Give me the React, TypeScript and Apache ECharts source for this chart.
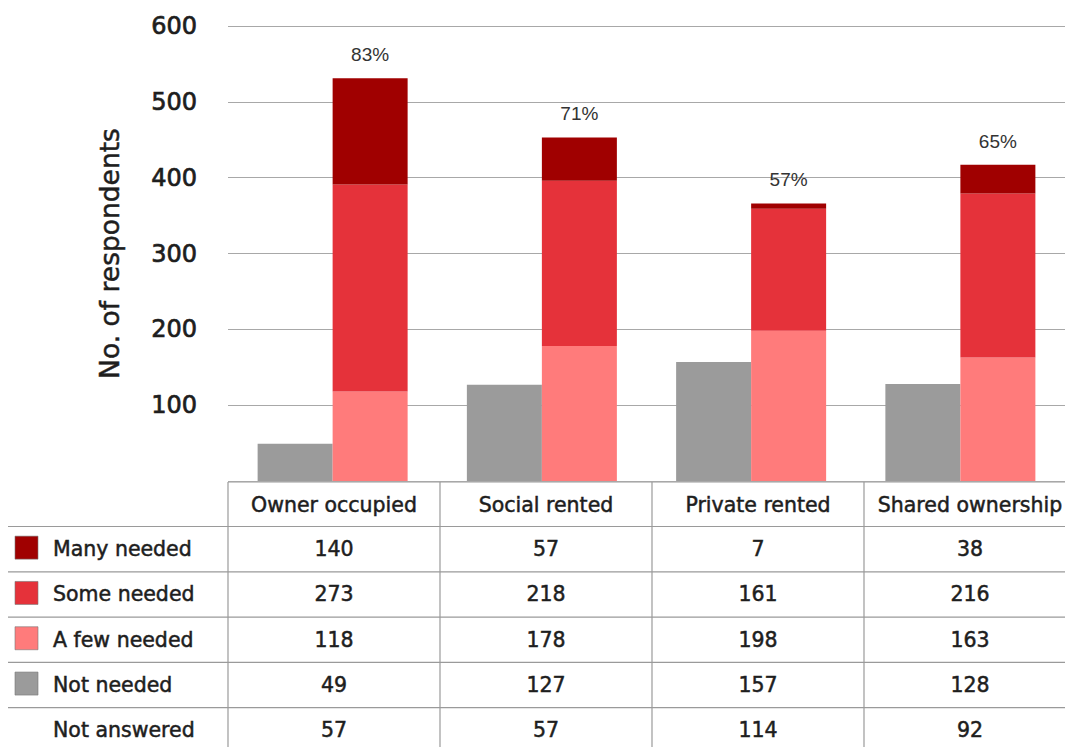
import React, { useEffect, useRef } from "react";
import * as echarts from "echarts";

const categories = ["Owner occupied", "Social rented", "Private rented", "Shared ownership"];
const manyNeeded = [140, 57, 7, 38];
const someNeeded = [273, 218, 161, 216];
const fewNeeded = [118, 178, 198, 163];
const notNeeded = [49, 127, 157, 128];
const notAnswered = [57, 57, 114, 92];

const yMin = 0;
const yMax = 600;
const yInterval = 100;

const C_MANY = "#A00000";
const C_SOME = "#E5323A";
const C_FEW = "#FF7B7B";
const C_NOT = "#9B9B9B";

const FONT = "DejaVu Sans";

export default function App() {
  const ref = useRef<HTMLDivElement>(null);

  useEffect(() => {
    document.body.style.margin = "0";
    if (!ref.current) return;
    const chart = echarts.init(ref.current, null, { renderer: "svg" });

    const gridLeft = 228;
    const gridTop = 26;
    const gridHeight = 455;
    const catWidth = 212;
    const gridWidth = catWidth * categories.length;

    const tableTop = 482;
    const headerH = 44.5;
    const rowH = 45.3;
    const W = 1065;
    const H = 747;

    const rows = [
      { label: "Many needed", color: C_MANY, values: manyNeeded },
      { label: "Some needed", color: C_SOME, values: someNeeded },
      { label: "A few needed", color: C_FEW, values: fewNeeded },
      { label: "Not needed", color: C_NOT, values: notNeeded },
      { label: "Not answered", color: null as string | null, values: notAnswered },
    ];

    const lineStyle = { stroke: "#9a9a9a", lineWidth: 1.2 };
    const textColor = "#1e1e1e";
    const tableFont = `20.5px "${FONT}"`;
    const textStroke = { stroke: textColor, lineWidth: 0.5 };
    const graphics: any[] = [];

    graphics.push({
      type: "line",
      shape: { x1: gridLeft, y1: tableTop, x2: W, y2: tableTop },
      style: lineStyle,
      silent: true,
    });
    for (let k = 0; k < categories.length; k++) {
      const x = gridLeft + catWidth * k;
      graphics.push({
        type: "line",
        shape: { x1: x, y1: tableTop, x2: x, y2: H },
        style: lineStyle,
        silent: true,
      });
    }
    categories.forEach((c, k) => {
      graphics.push({
        type: "text",
        x: gridLeft + catWidth * k + catWidth / 2,
        y: tableTop + headerH / 2 + 1,
        style: {
          text: c,
          fill: textColor,
          ...textStroke,
          font: tableFont,
          align: "center",
          verticalAlign: "middle",
        },
        silent: true,
      });
    });
    rows.forEach((r, i) => {
      const yTop = tableTop + headerH + rowH * i;
      graphics.push({
        type: "line",
        shape: { x1: 8, y1: yTop, x2: W, y2: yTop },
        style: lineStyle,
        silent: true,
      });
      const cy = yTop + rowH / 2;
      if (r.color) {
        graphics.push({
          type: "rect",
          shape: { x: 15, y: cy - 13, width: 23, height: 23 },
          style: { fill: r.color, stroke: "#777", lineWidth: 0.6 },
          silent: true,
        });
      }
      graphics.push({
        type: "text",
        x: 53,
        y: cy,
        style: {
          text: r.label,
          fill: textColor,
          ...textStroke,
          font: tableFont,
          align: "left",
          verticalAlign: "middle",
        },
        silent: true,
      });
      r.values.forEach((v, k) => {
        graphics.push({
          type: "text",
          x: gridLeft + catWidth * k + catWidth / 2,
          y: cy,
          style: {
            text: String(v),
            fill: textColor,
            ...textStroke,
            font: tableFont,
            align: "center",
            verticalAlign: "middle",
          },
          silent: true,
        });
      });
    });

    const pct = categories.map((_, k) => {
      const needed = fewNeeded[k] + someNeeded[k] + manyNeeded[k];
      const total = needed + notNeeded[k] + notAnswered[k];
      return Math.round((needed / total) * 100);
    });

    chart.setOption({
      animation: false,
      backgroundColor: "#fff",
      grid: { left: gridLeft, top: gridTop, width: gridWidth, height: gridHeight, containLabel: false },
      xAxis: {
        type: "category",
        data: categories,
        axisLine: { show: false },
        axisTick: { show: false },
        axisLabel: { show: false },
      },
      yAxis: {
        type: "value",
        min: yMin,
        max: yMax,
        interval: yInterval,
        name: "No. of respondents",
        nameLocation: "middle",
        nameRotate: 90,
        nameGap: 105,
        nameTextStyle: {
          fontFamily: FONT,
          fontSize: 26.5,
          color: textColor,
          textBorderColor: textColor,
          textBorderWidth: 0.5,
        },
        axisLine: { show: false },
        axisTick: { show: false },
        axisLabel: {
          fontFamily: FONT,
          fontSize: 24,
          color: textColor,
          textBorderColor: textColor,
          textBorderWidth: 0.7,
          margin: 31,
          formatter: (v: number) => (v === 0 ? "" : String(v)),
        },
        splitLine: { lineStyle: { color: "#a8a8a8", width: 1.2 } },
      },
      series: [
        {
          name: "Not needed",
          type: "bar",
          data: notNeeded,
          barWidth: 75,
          barGap: "0%",
          itemStyle: { color: C_NOT },
        },
        {
          name: "A few needed",
          type: "bar",
          stack: "needed",
          data: fewNeeded,
          barWidth: 75,
          itemStyle: { color: C_FEW },
        },
        {
          name: "Some needed",
          type: "bar",
          stack: "needed",
          data: someNeeded,
          barWidth: 75,
          itemStyle: { color: C_SOME },
        },
        {
          name: "Many needed",
          type: "bar",
          stack: "needed",
          data: manyNeeded,
          barWidth: 75,
          itemStyle: { color: C_MANY },
          label: {
            show: true,
            position: "top",
            distance: 14,
            fontFamily: "Liberation Sans",
            fontSize: 19,
            color: "#333",
            formatter: (p: any) => `${pct[p.dataIndex]}%`,
          },
        },
      ],
      graphic: graphics,
    });

    return () => chart.dispose();
  }, []);

  return <div ref={ref} style={{ width: 1065, height: 747 }} />;
}
